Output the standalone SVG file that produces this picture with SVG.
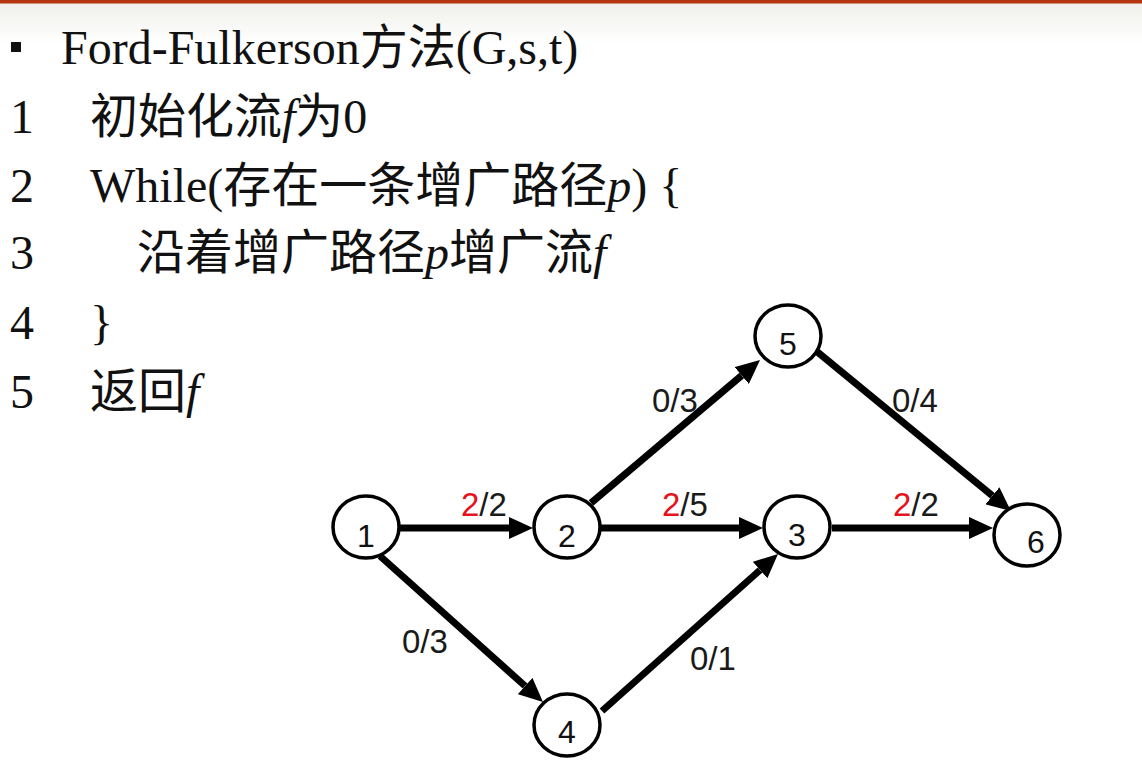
<svg xmlns="http://www.w3.org/2000/svg" width="1142" height="761" viewBox="0 0 1142 761">
<defs>
<linearGradient id="topfade" x1="0" y1="0" x2="0" y2="1">
<stop offset="0" stop-color="#efefea"/>
<stop offset="1" stop-color="#ffffff"/>
</linearGradient>
<marker id="arr" viewBox="0 0 24 22" refX="0" refY="11" markerWidth="24" markerHeight="22" markerUnits="userSpaceOnUse" orient="auto">
<path d="M0,0 L24,11 L0,22 z" fill="#000"/>
</marker>
<style>
.code{font-family:"Liberation Serif","Noto Sans CJK SC",serif;font-size:48px;fill:#111;}
.it{font-style:italic;font-family:"Liberation Serif",serif;}
.node ellipse{fill:#fff;stroke:#000;stroke-width:3.5;}
.node text{font-family:"Liberation Sans",Arial,sans-serif;font-size:32px;fill:#111;text-anchor:middle;}
.edge{stroke:#000;stroke-width:7;fill:none;marker-end:url(#arr);}
.lbl{font-family:"Liberation Sans",Arial,sans-serif;font-size:33px;fill:#1a1a1a;}
.red{fill:#e3141c;}
</style>
</defs>
<rect x="0" y="0" width="1142" height="761" fill="#fff"/>
<rect x="0" y="3" width="1142" height="40" fill="url(#topfade)"/>
<rect x="0" y="0" width="1142" height="3.5" fill="#b5350f"/>

<g id="code">
<rect x="11" y="42" width="10" height="10" fill="#111"/>
<text class="code" x="61" y="64">Ford-Fulkerson方法(G,s,t)</text>
<text class="code" x="10" y="133">1</text>
<text class="code" x="90" y="133">初始化流<tspan class="it">f</tspan>为0</text>
<text class="code" x="10" y="202">2</text>
<text class="code" x="90" y="202">While(存在一条增广路径<tspan class="it">p</tspan>) {</text>
<text class="code" x="10" y="269">3</text>
<text class="code" x="137" y="269">沿着增广路径<tspan class="it">p</tspan>增广流<tspan class="it">f</tspan></text>
<text class="code" x="10" y="339">4</text>
<text class="code" x="90" y="339">}</text>
<text class="code" x="10" y="408">5</text>
<text class="code" x="90" y="408">返回<tspan class="it">f</tspan></text>
</g>

<g id="connectors">
<line class="edge" x1="400" y1="528" x2="509" y2="528"/>
<line class="edge" x1="601" y1="528" x2="739" y2="528"/>
<line class="edge" x1="832" y1="528" x2="969" y2="528"/>
<line class="edge" x1="591" y1="503" x2="741.7" y2="375.5"/>
<line class="edge" x1="815" y1="350" x2="992.4" y2="495.8"/>
<line class="edge" x1="380" y1="556" x2="525.1" y2="686"/>
<line class="edge" x1="602" y1="711" x2="760.1" y2="570"/>
<text class="lbl" x="461" y="516"><tspan class="red">2</tspan>/2</text>
<text class="lbl" x="652" y="412">0/3</text>
<text class="lbl" x="662" y="516"><tspan class="red">2</tspan>/5</text>
<text class="lbl" x="892" y="412">0/4</text>
<text class="lbl" x="893" y="516"><tspan class="red">2</tspan>/2</text>
<text class="lbl" x="402" y="653">0/3</text>
<text class="lbl" x="690" y="670">0/1</text>
</g>

<g id="node1" class="node"><ellipse cx="366" cy="527" rx="33" ry="31"/><text x="366" y="547">1</text></g>
<g id="node2" class="node"><ellipse cx="567" cy="527" rx="33" ry="31"/><text x="567" y="547">2</text></g>
<g id="node5" class="node"><ellipse cx="788" cy="336" rx="33" ry="31"/><text x="788" y="355">5</text></g>
<g id="node3" class="node"><ellipse cx="797" cy="527" rx="33" ry="31"/><text x="797" y="546">3</text></g>
<g id="node6" class="node"><ellipse cx="1027" cy="535" rx="33" ry="31"/><text x="1036" y="553">6</text></g>
<g id="node4" class="node"><ellipse cx="567" cy="725" rx="33" ry="31"/><text x="567" y="743">4</text></g>
</svg>
